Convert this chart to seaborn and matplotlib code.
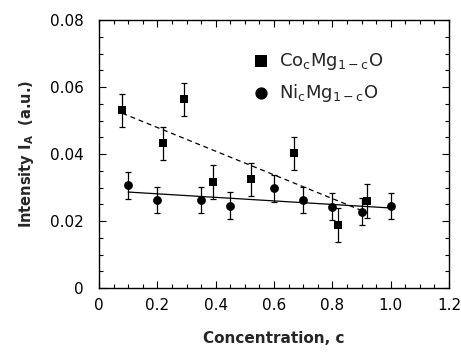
import numpy as np
import pandas as pd
import matplotlib
matplotlib.use("Agg")
import matplotlib.pyplot as plt
import seaborn as sns
from matplotlib.ticker import MultipleLocator, FixedLocator

# ---- data ----
co_x = [0.08, 0.22, 0.29, 0.39, 0.52, 0.67, 0.82, 0.92]
co_y = [0.053, 0.0432, 0.0563, 0.0317, 0.0324, 0.0402, 0.0188, 0.0260]
co_err = [0.005, 0.005, 0.005, 0.005, 0.005, 0.005, 0.005, 0.005]

ni_x = [0.10, 0.20, 0.35, 0.45, 0.60, 0.70, 0.80, 0.90, 1.00]
ni_y = [0.0307, 0.0263, 0.0263, 0.0246, 0.0298, 0.0263, 0.0243, 0.0228, 0.0245]
ni_err = [0.004, 0.004, 0.004, 0.004, 0.004, 0.004, 0.004, 0.004, 0.004]

x_ticks = [0, 0.2, 0.4, 0.6, 0.8, 1.0, 1.2]
x_tick_labels = ["0", "0.2", "0.4", "0.6", "0.8", "1.0", "1.2"]
y_ticks = [0, 0.02, 0.04, 0.06, 0.08]
y_tick_labels = ["0", "0.02", "0.04", "0.06", "0.08"]

co_label = r"Co$_\mathregular{c}$Mg$_\mathregular{1-c}$O"
ni_label = r"Ni$_\mathregular{c}$Mg$_\mathregular{1-c}$O"

co_df = pd.DataFrame({"c": co_x, "I": co_y})
ni_df = pd.DataFrame({"c": ni_x, "I": ni_y})

sns.set_style("ticks")
plt.rcParams["font.family"] = ["DejaVu Sans"]

fig = plt.figure(figsize=(4.61, 3.54), dpi=100)
ax = fig.add_axes([0.2148, 0.1864, 0.974 - 0.2148, 0.9435 - 0.1864])

# fit lines
sns.regplot(data=co_df, x="c", y="I", ax=ax, ci=None, scatter=False, truncate=True,
            line_kws=dict(color="black", lw=0.9, ls=(0, (4, 3))))
sns.regplot(data=ni_df, x="c", y="I", ax=ax, ci=None, scatter=False, truncate=True,
            line_kws=dict(color="black", lw=0.9))

# error bars
ax.errorbar(co_x, co_y, yerr=co_err, fmt="none", ecolor="black", elinewidth=0.9,
            capsize=2.5, capthick=0.9)
ax.errorbar(ni_x, ni_y, yerr=ni_err, fmt="none", ecolor="black", elinewidth=0.9,
            capsize=2.5, capthick=0.9)

# markers
sns.scatterplot(data=co_df, x="c", y="I", ax=ax, marker="s", s=36, color="black",
                edgecolor="black", linewidth=0, label=co_label, zorder=5)
sns.scatterplot(data=ni_df, x="c", y="I", ax=ax, marker="o", s=40, color="black",
                edgecolor="black", linewidth=0, label=ni_label, zorder=5)

ax.set_xlim(0, 1.2)
ax.set_ylim(0, 0.08)
ax.xaxis.set_major_locator(FixedLocator(x_ticks))
ax.set_xticklabels(x_tick_labels)
ax.yaxis.set_major_locator(FixedLocator(y_ticks))
ax.set_yticklabels(y_tick_labels)
ax.xaxis.set_minor_locator(MultipleLocator(0.05))
ax.yaxis.set_minor_locator(MultipleLocator(0.005))
ax.tick_params(which="both", direction="in", top=True, right=True, width=0.8, colors="black")
ax.tick_params(which="major", length=5, labelsize=11)
ax.tick_params(axis="x", which="major", pad=7)
ax.tick_params(axis="y", which="major", pad=11)
ax.tick_params(which="minor", length=3)
for s in ax.spines.values():
    s.set_linewidth(1.0)
    s.set_color("black")

ax.set_xlabel("Concentration, c", fontsize=11, fontweight="bold", labelpad=13)
ax.set_ylabel(r"Intensity I$_\mathregular{A}$  (a.u.)", fontsize=10.5, fontweight="bold", labelpad=10)

leg = ax.legend(loc="upper left", bbox_to_anchor=(0.39, 0.945), frameon=False,
                fontsize=13, markerscale=1.4, handletextpad=0.5, labelspacing=0.55,
                handlelength=1.0)

fig.savefig("out.png", dpi=100)
